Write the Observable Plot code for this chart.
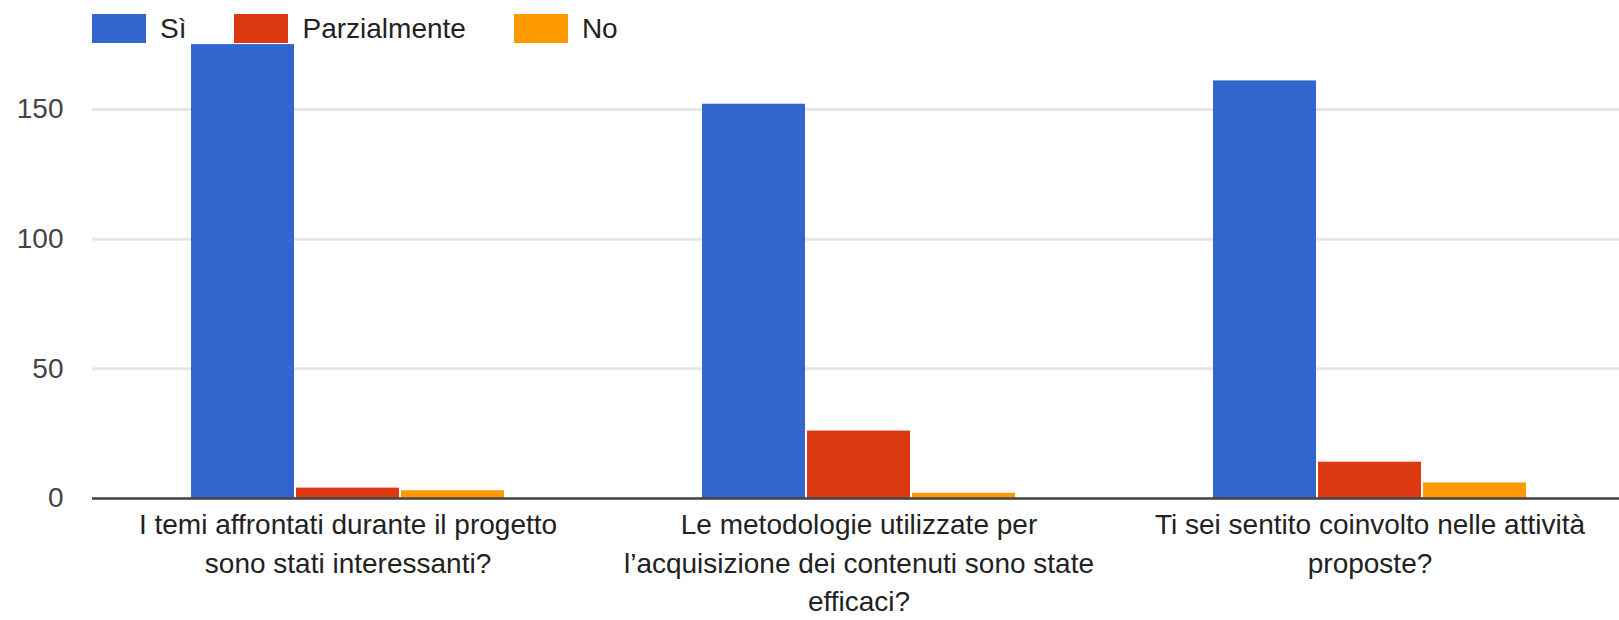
<!DOCTYPE html>
<html>
<head>
<meta charset="utf-8">
<script src="https://cdn.jsdelivr.net/npm/d3@7"></script>
<script src="https://cdn.jsdelivr.net/npm/@observablehq/plot@0.6"></script>
<style>
  html, body { margin: 0; padding: 0; background: #fff; }
  #wrap { position: relative; width: 1619px; height: 620px; overflow: hidden; font-family: "Liberation Sans", Arial, sans-serif; }
  #legend { position: absolute; left: 92px; top: 14px; display: flex; align-items: center; font-size: 28px; color: #222; z-index: 2; }
  #legend .sw { width: 54px; height: 29px; margin-right: 14px; }
  #legend .lb { margin-right: 48px; line-height: 29px; }
  svg { display: block; }
</style>
</head>
<body>
<div id="wrap">
  <div id="legend"></div>
  <div id="chart"></div>
</div>
<script>
const questions = [
  "I temi affrontati durante il progetto\nsono stati interessanti?",
  "Le metodologie utilizzate per\nl’acquisizione dei contenuti sono state\nefficaci?",
  "Ti sei sentito coinvolto nelle attività\nproposte?"
];
const answers = ["Sì", "Parzialmente", "No"];
const siValues = [175, 152, 161];
const parzialmenteValues = [4, 26, 14];
const noValues = [3, 2, 6];
const colors = ["#3366cc", "#dc3912", "#ff9900"];
const yTicks = [0, 50, 100, 150];

const series = [siValues, parzialmenteValues, noValues];
const data = [];
questions.forEach((q, i) => {
  answers.forEach((a, j) => {
    data.push({question: q, answer: a, value: series[j][i]});
  });
});

// Legend
const legend = document.getElementById("legend");
answers.forEach((a, j) => {
  const sw = document.createElement("div");
  sw.className = "sw";
  sw.style.background = colors[j];
  const lb = document.createElement("div");
  lb.className = "lb";
  lb.textContent = a;
  legend.appendChild(sw);
  legend.appendChild(lb);
});

const chart = Plot.plot({
  width: 1619,
  height: 620,
  marginTop: 0,
  marginBottom: 122,
  marginLeft: 91,
  marginRight: 0,
  style: {fontFamily: '"Liberation Sans", Arial, sans-serif', fontSize: "28px", background: "#fff", overflow: "hidden"},
  fx: {domain: questions, range: [91, 1626], paddingInner: 0, paddingOuter: 0, axis: null},
  x: {domain: answers, paddingInner: 0.016, paddingOuter: 0.94, axis: null},
  y: {domain: [0, 192], axis: null},
  color: {domain: answers, range: colors},
  marks: [
    Plot.gridY(yTicks, {stroke: "#e6e6e6", strokeWidth: 3, strokeOpacity: 1}),
    Plot.barY(data, {fx: "question", x: "answer", y: "value", fill: "answer"}),
    Plot.ruleY([0], {stroke: "#444", strokeWidth: 2.5}),
    Plot.axisY({ticks: yTicks, tickSize: 0, tickPadding: 29, label: null, color: "#444", fontSize: 28}),
    Plot.axisFx({anchor: "bottom", tickSize: 0, tickPadding: 8, label: null, color: "#222", fontSize: 28, lineHeight: 1.38})
  ]
});
document.getElementById("chart").appendChild(chart);
</script>
</body>
</html>
